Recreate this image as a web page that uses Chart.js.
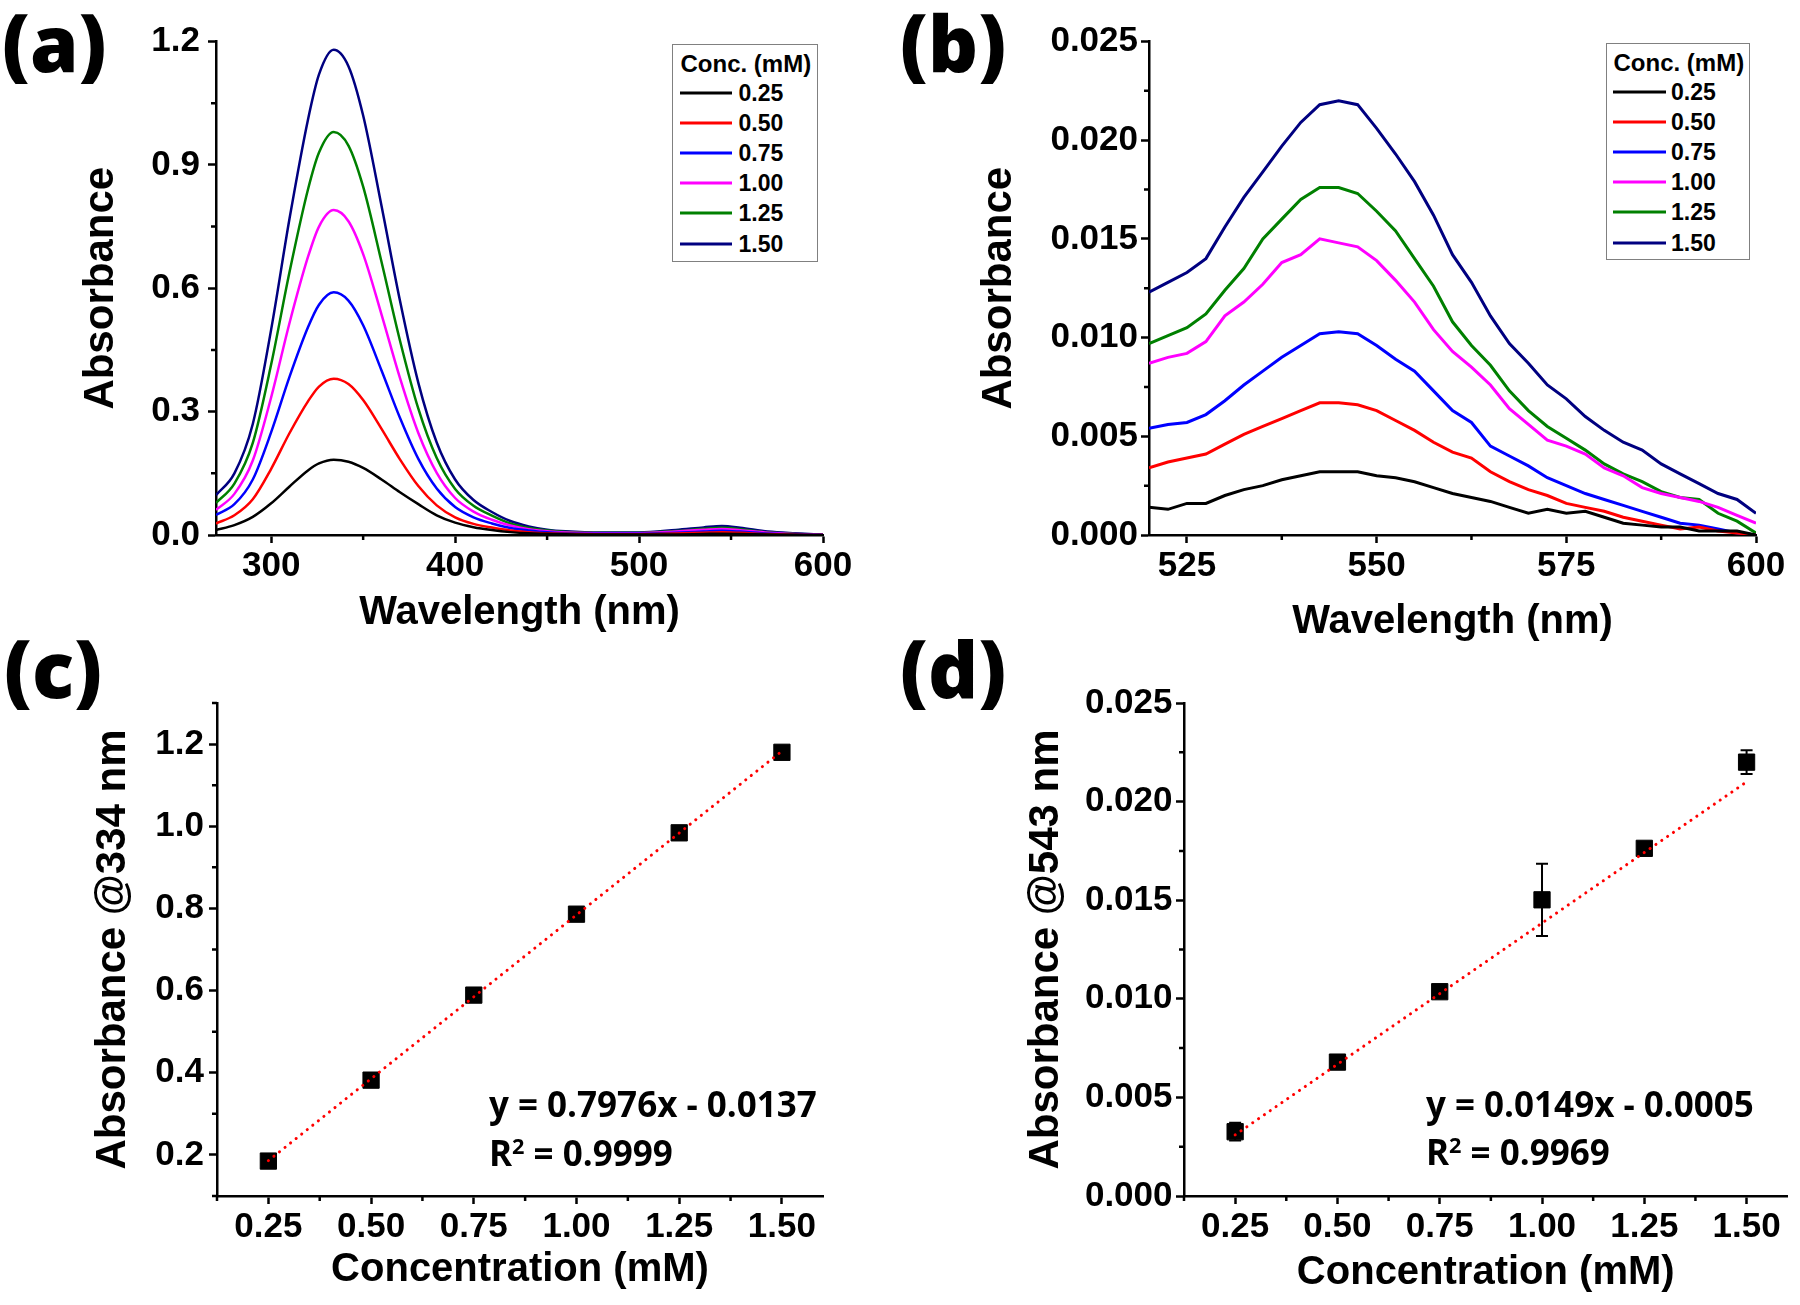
<!DOCTYPE html>
<html>
<head>
<meta charset="utf-8">
<title>Absorbance vs concentration</title>
<script src="https://cdn.jsdelivr.net/npm/chart.js@4.4.1/dist/chart.umd.min.js"></script>
<style>
  html, body { margin: 0; padding: 0; background: #fff; }
  #page { position: relative; width: 1800px; height: 1305px; overflow: hidden; font-family: "Liberation Sans", Arial, sans-serif; }
  canvas { position: absolute; }
  .tag { position: absolute; font-family: "Open Sans", "Liberation Sans", sans-serif; font-weight: 800; font-size: 78px; line-height: 1; white-space: nowrap; }
  .eq { position: absolute; font-family: "Open Sans", "Liberation Sans", sans-serif; font-weight: 700; font-size: 35px; line-height: 1; white-space: nowrap; color: #000; }
  .eq .sup { font-size: 0.62em; position: relative; top: -0.55em; }
  .legend { position: absolute; border: 1.5px solid #808080; background: #fff; font-weight: 700; color: #000; }
  .legend .ttl { position: absolute; font-size: 24px; line-height: 1; white-space: nowrap; transform: translateY(-50%); }
  .legend .sw { position: absolute; height: 3px; transform: translateY(-50%); }
  .legend .lb { position: absolute; font-size: 23px; line-height: 1; transform: translateY(-50%); }
</style>
</head>
<body>
<div id="page">
  <canvas id="chart-a" width="900" height="650" style="left:0;top:0"></canvas>
  <canvas id="chart-b" width="900" height="650" style="left:900px;top:0"></canvas>
  <canvas id="chart-c" width="900" height="655" style="left:0;top:650px"></canvas>
  <canvas id="chart-d" width="900" height="655" style="left:900px;top:650px"></canvas>

  <div class="tag" style="left:2px;top:3px">(a)</div>
  <div class="tag" style="left:900px;top:3px">(b)</div>
  <div class="tag" style="left:4px;top:629px">(c)</div>
  <div class="tag" style="left:900px;top:629px">(d)</div>

  <div class="eq" style="left:489px;top:1086px">y = 0.7976x - 0.0137</div>
  <div class="eq" style="left:489px;top:1135px">R<span class="sup">2</span> = 0.9999</div>
  <div class="eq" style="left:1426px;top:1086px">y = 0.0149x - 0.0005</div>
  <div class="eq" style="left:1426px;top:1134px">R<span class="sup">2</span> = 0.9969</div>

  <div class="legend" id="legend-a" style="left:672px;top:43.5px;width:144px;height:216px"></div>
  <div class="legend" id="legend-b" style="left:1606px;top:42.7px;width:142px;height:215.5px"></div>
</div>

<script>
// concentracoes (mM) e cores das curvas
const concLabels = ["0.25", "0.50", "0.75", "1.00", "1.25", "1.50"];
const concColors = ["#000000", "#ff0000", "#0000ff", "#ff00ff", "#008000", "#000080"];

// (a) espectro completo 270-600 nm
const wlFull = [270, 280, 290, 300, 310, 320, 326, 334, 342, 350, 360, 370, 380, 390, 400, 410, 420, 430, 440, 450, 460, 480, 500, 520, 535, 545, 555, 570, 585, 600];
const full025 = [0.012, 0.024, 0.044, 0.077, 0.118, 0.157, 0.174, 0.183, 0.178, 0.163, 0.135, 0.104, 0.075, 0.048, 0.030, 0.019, 0.012, 0.007, 0.004, 0.003, 0.002, 0.001, 0.001, 0.0014, 0.0025, 0.0032, 0.0027, 0.0011, 0.0005, 0.0];
const full050 = [0.028, 0.048, 0.087, 0.161, 0.248, 0.325, 0.361, 0.380, 0.367, 0.328, 0.258, 0.184, 0.119, 0.072, 0.043, 0.027, 0.018, 0.011, 0.007, 0.004, 0.003, 0.002, 0.002, 0.0034, 0.0055, 0.0067, 0.0053, 0.0023, 0.0007, 0.0];
const full075 = [0.049, 0.075, 0.135, 0.250, 0.385, 0.505, 0.560, 0.590, 0.570, 0.510, 0.400, 0.285, 0.185, 0.113, 0.068, 0.043, 0.028, 0.017, 0.011, 0.0065, 0.0045, 0.003, 0.003, 0.0054, 0.0083, 0.0103, 0.0083, 0.0035, 0.0012, 0.0];
const full100 = [0.061, 0.100, 0.181, 0.335, 0.516, 0.676, 0.750, 0.790, 0.763, 0.683, 0.536, 0.382, 0.248, 0.151, 0.090, 0.057, 0.037, 0.023, 0.014, 0.009, 0.006, 0.004, 0.0045, 0.0087, 0.0127, 0.0148, 0.0118, 0.0056, 0.0024, 0.0006];
const full125 = [0.078, 0.125, 0.224, 0.415, 0.640, 0.840, 0.930, 0.980, 0.947, 0.847, 0.664, 0.473, 0.307, 0.187, 0.112, 0.071, 0.047, 0.028, 0.017, 0.011, 0.0075, 0.005, 0.005, 0.0097, 0.0150, 0.0176, 0.0140, 0.0063, 0.0027, 0.0001];
const full150 = [0.097, 0.150, 0.270, 0.500, 0.770, 1.010, 1.120, 1.180, 1.140, 1.020, 0.800, 0.570, 0.370, 0.225, 0.135, 0.085, 0.056, 0.034, 0.021, 0.013, 0.009, 0.006, 0.006, 0.0123, 0.0184, 0.0220, 0.0179, 0.0087, 0.0043, 0.0011];

// (b) detalhe 520-600 nm
const wlZoom = [520, 522.5, 525, 527.5, 530, 532.5, 535, 537.5, 540, 542.5, 545, 547.5, 550, 552.5, 555, 557.5, 560, 562.5, 565, 567.5, 570, 572.5, 575, 577.5, 580, 582.5, 585, 587.5, 590, 592.5, 595, 597.5, 600];
const zoom025 = [0.0014, 0.0013, 0.0016, 0.0016, 0.0020, 0.0023, 0.0025, 0.0028, 0.0030, 0.0032, 0.0032, 0.0032, 0.0030, 0.0029, 0.0027, 0.0024, 0.0021, 0.0019, 0.0017, 0.0014, 0.0011, 0.0013, 0.0011, 0.0012, 0.0009, 0.0006, 0.0005, 0.0004, 0.0004, 0.0002, 0.0002, 0.0002, 0.0000];
const zoom050 = [0.0034, 0.0037, 0.0039, 0.0041, 0.0046, 0.0051, 0.0055, 0.0059, 0.0063, 0.0067, 0.0067, 0.0066, 0.0063, 0.0058, 0.0053, 0.0047, 0.0042, 0.0039, 0.0032, 0.0027, 0.0023, 0.0020, 0.0016, 0.0014, 0.0012, 0.0009, 0.0007, 0.0005, 0.0003, 0.0004, 0.0002, 0.0001, 0.0000];
const zoom075 = [0.0054, 0.0056, 0.0057, 0.0061, 0.0068, 0.0076, 0.0083, 0.0090, 0.0096, 0.0102, 0.0103, 0.0102, 0.0096, 0.0089, 0.0083, 0.0073, 0.0063, 0.0057, 0.0045, 0.0040, 0.0035, 0.0029, 0.0025, 0.0021, 0.0018, 0.0015, 0.0012, 0.0009, 0.0006, 0.0005, 0.0003, 0.0001, 0.0000];
const zoom100 = [0.0087, 0.0090, 0.0092, 0.0098, 0.0111, 0.0118, 0.0127, 0.0138, 0.0142, 0.0150, 0.0148, 0.0146, 0.0139, 0.0129, 0.0118, 0.0104, 0.0093, 0.0085, 0.0076, 0.0064, 0.0056, 0.0048, 0.0045, 0.0041, 0.0034, 0.0030, 0.0024, 0.0021, 0.0019, 0.0017, 0.0014, 0.0010, 0.0006];
const zoom125 = [0.0097, 0.0101, 0.0105, 0.0112, 0.0124, 0.0135, 0.0150, 0.0160, 0.0170, 0.0176, 0.0176, 0.0173, 0.0164, 0.0154, 0.0140, 0.0126, 0.0108, 0.0096, 0.0086, 0.0073, 0.0063, 0.0055, 0.0049, 0.0043, 0.0036, 0.0031, 0.0027, 0.0022, 0.0019, 0.0018, 0.0011, 0.0007, 0.0001];
const zoom150 = [0.0123, 0.0128, 0.0133, 0.0140, 0.0156, 0.0171, 0.0184, 0.0197, 0.0209, 0.0218, 0.0220, 0.0218, 0.0206, 0.0193, 0.0179, 0.0162, 0.0142, 0.0128, 0.0111, 0.0097, 0.0087, 0.0076, 0.0069, 0.0060, 0.0053, 0.0047, 0.0043, 0.0036, 0.0031, 0.0026, 0.0021, 0.0018, 0.0011];

// (c) e (d) curvas de calibracao
const concX = [0.25, 0.5, 0.75, 1.0, 1.25, 1.5];
const abs334 = [0.185, 0.382, 0.589, 0.786, 0.984, 1.180];
const abs543 = [0.00326, 0.00679, 0.01036, 0.01502, 0.01763, 0.0220];
const err543 = [0.00045, 0.0002, 0.0002, 0.00183, 0.0002, 0.0006];
const fitX = [0.25, 1.5];
const fit334 = [0.186, 1.183];
const fit543 = [0.0031, 0.0210];

// marcas dos eixos
const ticksA = { x: [300, 400, 500, 600], xMinor: [350, 450, 550], y: [0, 0.3, 0.6, 0.9, 1.2], yMinor: [0.15, 0.45, 0.75, 1.05] };
const ticksB = { x: [525, 550, 575, 600], xMinor: [537.5, 562.5, 587.5], y: [0, 0.005, 0.01, 0.015, 0.02, 0.025], yMinor: [0.0025, 0.0075, 0.0125, 0.0175, 0.0225] };
const ticksConc = [0.25, 0.5, 0.75, 1.0, 1.25, 1.5];
const ticksConcMinor = [0.125, 0.375, 0.625, 0.875, 1.125, 1.375];
const ticksC = { y: [0.2, 0.4, 0.6, 0.8, 1.0, 1.2], yMinor: [0.1, 0.3, 0.5, 0.7, 0.9, 1.1, 1.3] };
const ticksD = { y: [0, 0.005, 0.01, 0.015, 0.02, 0.025], yMinor: [0.0025, 0.0075, 0.0125, 0.0175, 0.0225] };

const FONT = "'Liberation Sans', Arial, Helvetica, sans-serif";

// marcas menores (Chart.js nao tem para escala linear)
const minorTicks = {
  id: "minorTicks",
  afterDraw(chart, args, opts) {
    const { ctx, chartArea, scales } = chart;
    ctx.save();
    ctx.strokeStyle = "#000";
    ctx.lineWidth = 2.5;
    ctx.beginPath();
    (opts.x || []).forEach((v) => {
      const px = scales.x.getPixelForValue(v);
      ctx.moveTo(px, chartArea.bottom);
      ctx.lineTo(px, chartArea.bottom + 5);
    });
    (opts.y || []).forEach((v) => {
      const py = scales.y.getPixelForValue(v);
      ctx.moveTo(chartArea.left, py);
      ctx.lineTo(chartArea.left - 5, py);
    });
    ctx.stroke();
    ctx.restore();
  },
};

// barras de erro
const errorBars = {
  id: "errorBars",
  beforeDatasetsDraw(chart, args, opts) {
    if (!opts.err) return;
    const { ctx, scales: { x, y } } = chart;
    ctx.save();
    ctx.strokeStyle = "#000";
    ctx.lineWidth = 2;
    opts.x.forEach((xv, i) => {
      const px = x.getPixelForValue(xv);
      const top = y.getPixelForValue(opts.y[i] + opts.err[i]);
      const bot = y.getPixelForValue(opts.y[i] - opts.err[i]);
      ctx.beginPath();
      ctx.moveTo(px, top); ctx.lineTo(px, bot);
      ctx.moveTo(px - 6, top); ctx.lineTo(px + 6, top);
      ctx.moveTo(px - 6, bot); ctx.lineTo(px + 6, bot);
      ctx.stroke();
    });
    ctx.restore();
  },
};

const axis = (dir, a) => ({
  type: "linear",
  min: a.min,
  max: a.max,
  border: { display: true, color: "#000", width: 2.5 },
  grid: { drawOnChartArea: false, drawTicks: true, tickLength: 8, tickWidth: 2.5, tickColor: "#000" },
  ticks: {
    autoSkip: false,
    maxRotation: 0,
    color: "#000",
    padding: a.labelPad,
    font: { family: FONT, size: 35, weight: "bold" },
    callback: (v) => Number(v).toFixed(a.digits),
  },
  afterBuildTicks: (scale) => {
    scale.ticks = a.ticks.map((v) => ({ value: v }));
  },
  afterFit: (scale) => {
    if (dir === "x") scale.height = a.box;
    else scale.width = a.box;
  },
  title: {
    display: true,
    text: a.title,
    color: "#000",
    font: { family: FONT, size: a.titleSize, weight: "bold" },
    padding: dir === "x" ? { top: 0, bottom: a.titlePad } : { top: a.titlePad, bottom: 0 },
  },
});

const panelOptions = (p) => ({
  responsive: false,
  animation: false,
  devicePixelRatio: 1,
  layout: { padding: { left: 0, top: p.top, right: p.right, bottom: 0 } },
  plugins: {
    legend: { display: false },
    tooltip: { enabled: false },
    minorTicks: { x: p.x.minor, y: p.y.minor },
    errorBars: p.errors || {},
  },
  scales: { x: axis("x", p.x), y: axis("y", p.y) },
});

const spectrumSets = (series, width, smooth) =>
  series.map((data, i) => ({
    label: concLabels[i],
    data,
    borderColor: concColors[i],
    borderWidth: width,
    pointRadius: 0,
    fill: false,
    cubicInterpolationMode: smooth ? "monotone" : "default",
    tension: 0,
  }));

// Grafico (a)
new Chart(document.getElementById("chart-a"), {
  type: "line",
  data: { labels: wlFull, datasets: spectrumSets([full025, full050, full075, full100, full125, full150], 2.5, true) },
  options: panelOptions({
    top: 41.5,
    right: 77,
    x: { min: 270, max: 600, ticks: ticksA.x, minor: ticksA.xMinor, digits: 0, labelPad: 2, box: 115, title: "Wavelength (nm)", titleSize: 40, titlePad: 13 },
    y: { min: 0, max: 1.2, ticks: ticksA.y, minor: ticksA.yMinor, digits: 1, labelPad: 8, box: 216, title: "Absorbance", titleSize: 42, titlePad: 76 },
  }),
  plugins: [minorTicks],
});

// Grafico (b)
new Chart(document.getElementById("chart-b"), {
  type: "line",
  data: { labels: wlZoom, datasets: spectrumSets([zoom025, zoom050, zoom075, zoom100, zoom125, zoom150], 3, false) },
  options: panelOptions({
    top: 41.5,
    right: 44,
    x: { min: 520, max: 600, ticks: ticksB.x, minor: ticksB.xMinor, digits: 0, labelPad: 2, box: 115, title: "Wavelength (nm)", titleSize: 40, titlePad: 4 },
    y: { min: 0, max: 0.025, ticks: ticksB.y, minor: ticksB.yMinor, digits: 3, labelPad: 3, box: 249, title: "Absorbance", titleSize: 42, titlePad: 74 },
  }),
  plugins: [minorTicks],
});

const calibrationSets = (values, fitY) => [
  {
    type: "line",
    label: "Linear fit",
    data: fitX.map((x, i) => ({ x, y: fitY[i] })),
    borderColor: "#ff0000",
    borderWidth: 3,
    borderDash: [0.1, 7],
    borderCapStyle: "round",
    pointRadius: 0,
    showLine: true,
    order: 0,
  },
  {
    type: "scatter",
    label: "Absorbance",
    data: concX.map((x, i) => ({ x, y: values[i] })),
    pointStyle: "rect",
    pointRadius: 11.5,
    backgroundColor: "#000",
    borderColor: "#000",
    borderWidth: 1,
    order: 1,
  },
];

// Grafico (c)
new Chart(document.getElementById("chart-c"), {
  type: "scatter",
  data: { datasets: calibrationSets(abs334, fit334) },
  options: panelOptions({
    top: 53,
    right: 77,
    x: { min: 0.125, max: 1.6, ticks: ticksConc, minor: ticksConcMinor, digits: 2, labelPad: 2, box: 109, title: "Concentration (mM)", titleSize: 40, titlePad: 11 },
    y: { min: 0.1, max: 1.3, ticks: ticksC.y, minor: ticksC.yMinor, digits: 1, labelPad: 5, box: 217, title: "Absorbance @334 nm", titleSize: 42, titlePad: 88 },
  }),
  plugins: [minorTicks],
});

// Grafico (d)
new Chart(document.getElementById("chart-d"), {
  type: "scatter",
  data: { datasets: calibrationSets(abs543, fit543) },
  options: panelOptions({
    top: 53,
    right: 9,
    x: { min: 0.125, max: 1.6, ticks: ticksConc, minor: ticksConcMinor, digits: 2, labelPad: 2, box: 109, title: "Concentration (mM)", titleSize: 40, titlePad: 8 },
    y: { min: 0, max: 0.025, ticks: ticksD.y, minor: ticksD.yMinor, digits: 3, labelPad: 3.5, box: 284, title: "Absorbance @543 nm", titleSize: 42, titlePad: 121 },
    errors: { x: concX, y: abs543, err: err543 },
  }),
  plugins: [minorTicks, errorBars],
});

// legendas no estilo do Origin
const buildLegend = (id, swLeft, swWidth, lbLeft, ttlLeft) => {
  const box = document.getElementById(id);
  let html = `<div class="ttl" style="left:${ttlLeft}px;top:19px">Conc. (mM)</div>`;
  concLabels.forEach((lab, i) => {
    const cy = 48 + i * 30.2;
    html += `<div class="sw" style="left:${swLeft}px;width:${swWidth}px;top:${cy}px;background:${concColors[i]}"></div>`;
    html += `<div class="lb" style="left:${lbLeft}px;top:${cy}px">${lab}</div>`;
  });
  box.innerHTML = html;
};
buildLegend("legend-a", 6.5, 52, 65.5, 7.5);
buildLegend("legend-b", 6, 52.5, 64, 6.5);
</script>
</body>
</html>
